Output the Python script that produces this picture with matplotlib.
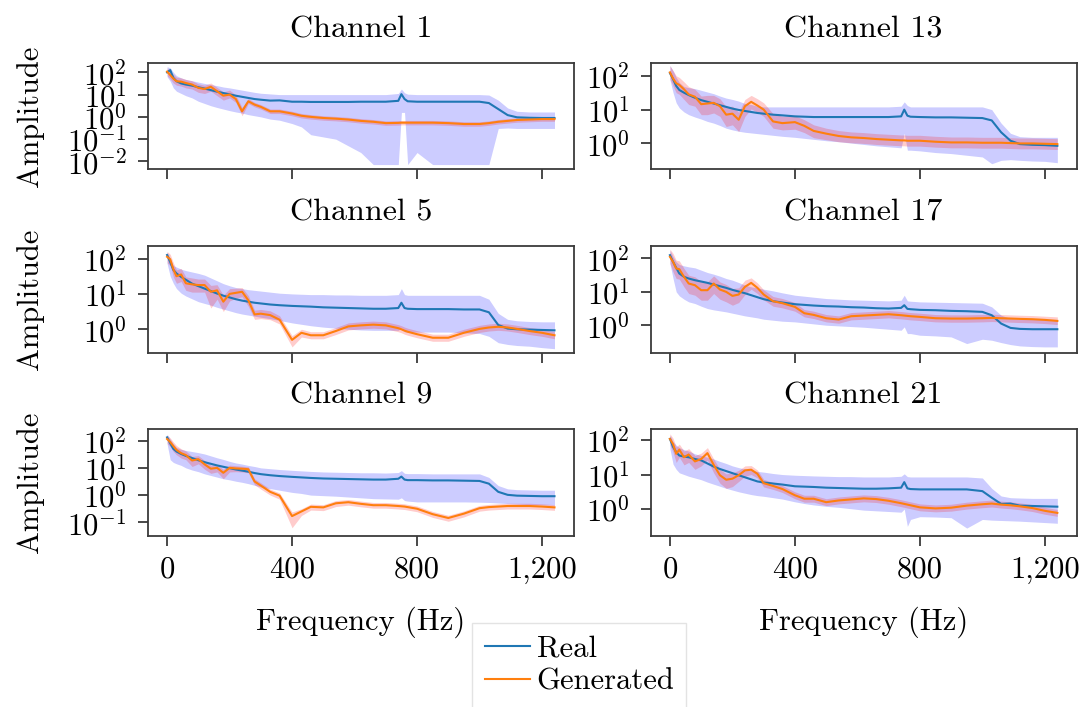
import numpy as np
import matplotlib
matplotlib.use("Agg")
import matplotlib.pyplot as plt
from matplotlib.ticker import FixedLocator, FuncFormatter, NullLocator

plt.rcParams["font.family"] = "cmr10"
plt.rcParams["mathtext.fontset"] = "cm"
plt.rcParams["axes.unicode_minus"] = False
plt.rcParams["font.size"] = 22

# frequency grid (Hz)
freq_hz = [0, 10, 20, 30, 45, 60, 80, 100, 120, 140, 160, 180, 200, 220, 240,
           260, 280, 300, 330, 360, 400, 430, 460, 500, 540, 580, 620, 660, 700, 740,
           750, 760, 770, 800, 850, 900, 950, 1000, 1030, 1060, 1090, 1120, 1160, 1200, 1240]

# all amplitudes below are log10(amplitude)
# ---- Channel 1
ch1_real_mean = [2.0, 2.1, 1.75, 1.6, 1.5, 1.45, 1.4, 1.33, 1.27, 1.2, 1.13, 1.07, 1.01, 0.95, 0.9,
                 0.85, 0.8, 0.77, 0.73, 0.74, 0.68, 0.68, 0.67, 0.67, 0.67, 0.67, 0.68, 0.68, 0.68, 0.72,
                 1.02, 0.8, 0.7, 0.68, 0.68, 0.68, 0.68, 0.68, 0.62, 0.35, 0.08, -0.02, -0.04, -0.05, -0.05]
ch1_real_hi = [2.25, 2.2, 2.0, 1.85, 1.75, 1.68, 1.62, 1.56, 1.5, 1.45, 1.4, 1.34, 1.3, 1.25, 1.2,
               1.15, 1.1, 1.06, 1.03, 1.0, 1.0, 1.0, 1.0, 1.0, 1.0, 1.0, 1.0, 1.0, 1.0, 1.05,
               1.25, 1.08, 1.02, 1.0, 1.0, 1.0, 1.0, 1.0, 0.98, 0.75, 0.4, 0.25, 0.22, 0.22, 0.22]
ch1_real_lo = [1.8, 1.6, 1.3, 1.15, 1.05, 0.95, 0.85, 0.7, 0.6, 0.5, 0.42, 0.35, 0.28, 0.22, 0.17,
               0.1, 0.05, 0.0, -0.1, -0.15, -0.3, -0.45, -0.8, -0.9, -1.0, -1.3, -1.6, -2.14, -2.14, -2.14,
               0.2, 0.2, -2.14, -1.6, -2.14, -2.14, -2.14, -2.14, -2.14, -0.52, -0.5, -0.52, -0.52, -0.52, -0.52]
ch1_gen_mean = [2.03, 1.88, 1.72, 1.6, 1.58, 1.52, 1.45, 1.3, 1.25, 1.35, 1.15, 0.95, 1.0, 0.8, 0.25,
                0.7, 0.55, 0.45, 0.25, 0.25, 0.15, 0.05, 0.0, -0.05, -0.08, -0.12, -0.18, -0.22, -0.28, -0.27,
                -0.26, -0.26, -0.26, -0.26, -0.26, -0.28, -0.32, -0.32, -0.28, -0.22, -0.18, -0.14, -0.12, -0.1, -0.1]
ch1_gen_hi = [2.2, 2.05, 1.9, 1.78, 1.75, 1.68, 1.62, 1.48, 1.42, 1.52, 1.32, 1.12, 1.2, 0.98, 0.42,
              0.82, 0.65, 0.55, 0.35, 0.35, 0.25, 0.15, 0.1, 0.05, 0.02, -0.02, -0.08, -0.12, -0.18, -0.17,
              -0.16, -0.16, -0.16, -0.16, -0.16, -0.18, -0.22, -0.22, -0.18, -0.12, -0.08, -0.04, -0.02, 0.0, 0.0]
ch1_gen_lo = [1.85, 1.7, 1.52, 1.42, 1.38, 1.3, 1.25, 1.1, 1.05, 1.15, 0.95, 0.75, 0.85, 0.65, 0.05,
              0.6, 0.45, 0.35, 0.15, 0.15, 0.05, -0.05, -0.1, -0.15, -0.18, -0.22, -0.28, -0.32, -0.38, -0.37,
              -0.36, -0.36, -0.36, -0.36, -0.36, -0.38, -0.42, -0.42, -0.38, -0.32, -0.28, -0.24, -0.22, -0.2, -0.2]

# ---- Channel 13
ch13_real_mean = [2.08, 1.9, 1.7, 1.58, 1.5, 1.43, 1.35, 1.28, 1.23, 1.18, 1.13, 1.08, 1.03, 0.99, 0.96,
                  0.93, 0.9, 0.88, 0.85, 0.83, 0.8, 0.79, 0.78, 0.78, 0.78, 0.78, 0.78, 0.78, 0.78, 0.8,
                  1.0, 0.82, 0.79, 0.78, 0.77, 0.77, 0.76, 0.75, 0.68, 0.33, 0.08, -0.02, -0.04, -0.05, -0.07]
ch13_real_hi = [2.3, 2.15, 1.95, 1.8, 1.68, 1.65, 1.62, 1.57, 1.52, 1.47, 1.4, 1.34, 1.3, 1.25, 1.18,
                1.15, 1.1, 1.08, 1.08, 1.08, 1.08, 1.08, 1.08, 1.08, 1.08, 1.08, 1.08, 1.08, 1.08, 1.1,
                1.23, 1.12, 1.08, 1.08, 1.08, 1.08, 1.08, 1.08, 1.0, 0.6, 0.3, 0.2, 0.18, 0.18, 0.18]
ch13_real_lo = [1.88, 1.5, 1.2, 1.05, 0.93, 0.85, 0.78, 0.72, 0.65, 0.6, 0.53, 0.45, 0.4, 0.36, 0.33,
                0.31, 0.29, 0.27, 0.24, 0.21, 0.18, 0.15, 0.12, 0.08, 0.05, 0.01, -0.03, -0.07, -0.1, -0.13,
                0.3, -0.2, -0.2, -0.22, -0.27, -0.3, -0.35, -0.4, -0.6, -0.5, -0.48, -0.5, -0.52, -0.53, -0.57]
ch13_gen_mean = [2.1, 1.92, 1.78, 1.73, 1.6, 1.45, 1.38, 1.16, 1.18, 1.2, 1.1, 0.85, 0.88, 0.7, 1.1,
                 1.23, 1.12, 1.0, 0.65, 0.6, 0.63, 0.52, 0.37, 0.29, 0.22, 0.18, 0.16, 0.13, 0.11, 0.09,
                 0.09, 0.08, 0.08, 0.08, 0.05, 0.03, 0.03, 0.02, 0.02, 0.02, 0.01, 0.0, 0.0, -0.01, -0.02]
ch13_gen_hi = [2.3, 2.15, 2.0, 1.95, 1.82, 1.68, 1.6, 1.4, 1.42, 1.42, 1.32, 1.08, 1.1, 0.92, 1.3,
               1.42, 1.32, 1.2, 0.88, 0.8, 0.82, 0.7, 0.55, 0.45, 0.38, 0.34, 0.32, 0.29, 0.27, 0.25,
               0.25, 0.24, 0.24, 0.24, 0.21, 0.19, 0.19, 0.18, 0.18, 0.18, 0.17, 0.16, 0.16, 0.15, 0.14]
ch13_gen_lo = [1.9, 1.7, 1.5, 1.45, 1.3, 1.15, 1.1, 0.85, 0.85, 0.9, 0.8, 0.5, 0.55, 0.35, 0.8,
               1.02, 0.92, 0.8, 0.45, 0.4, 0.42, 0.32, 0.17, 0.11, 0.05, 0.02, 0.0, -0.03, -0.05, -0.07,
               -0.07, -0.08, -0.08, -0.08, -0.11, -0.13, -0.13, -0.14, -0.14, -0.14, -0.15, -0.16, -0.16, -0.17, -0.18]

# ---- Channel 5
ch5_real_mean = [2.1, 1.9, 1.68, 1.58, 1.48, 1.4, 1.29, 1.22, 1.15, 1.08, 1.01, 0.95, 0.9, 0.85, 0.81,
                 0.78, 0.75, 0.73, 0.7, 0.68, 0.66, 0.65, 0.64, 0.62, 0.61, 0.6, 0.59, 0.58, 0.58, 0.6,
                 0.75, 0.6, 0.58, 0.57, 0.57, 0.57, 0.56, 0.56, 0.48, 0.12, 0.02, 0.0, -0.01, -0.02, -0.03]
ch5_real_hi = [2.19, 2.0, 1.8, 1.76, 1.7, 1.66, 1.62, 1.58, 1.53, 1.45, 1.37, 1.29, 1.23, 1.18, 1.15,
               1.12, 1.1, 1.08, 1.05, 1.02, 1.0, 0.99, 0.98, 0.98, 0.97, 0.97, 0.96, 0.96, 0.96, 0.98,
               1.15, 0.98, 0.96, 0.96, 0.96, 0.96, 0.96, 0.96, 0.85, 0.45, 0.28, 0.24, 0.22, 0.21, 0.21]
ch5_real_lo = [1.86, 1.5, 1.3, 1.15, 1.02, 0.94, 0.86, 0.78, 0.73, 0.68, 0.62, 0.57, 0.52, 0.47, 0.43,
               0.4, 0.37, 0.34, 0.3, 0.25, 0.18, 0.14, 0.1, 0.06, 0.03, 0.0, -0.02, -0.03, -0.03, -0.03,
               0.05, -0.07, -0.08, -0.08, -0.08, -0.08, -0.1, -0.12, -0.2, -0.38, -0.43, -0.46, -0.48, -0.52, -0.55]
ch5_gen_mean = [2.05, 1.98, 1.7, 1.5, 1.55, 1.3, 1.27, 1.25, 1.25, 1.06, 1.1, 0.78, 1.0, 1.03, 1.06,
                0.82, 0.42, 0.44, 0.4, 0.27, -0.3, -0.1, -0.17, -0.17, -0.05, 0.08, 0.11, 0.13, 0.11, 0.03,
                0.0, -0.04, -0.07, -0.14, -0.24, -0.24, -0.1, 0.01, 0.05, 0.07, 0.05, 0.01, -0.05, -0.1, -0.17]
ch5_gen_hi = [2.2, 2.12, 1.88, 1.68, 1.72, 1.48, 1.45, 1.42, 1.42, 1.24, 1.26, 0.96, 1.15, 1.16, 1.18,
              0.95, 0.54, 0.56, 0.52, 0.38, -0.18, 0.0, -0.07, -0.07, 0.05, 0.18, 0.21, 0.23, 0.21, 0.13,
              0.1, 0.06, 0.03, -0.04, -0.14, -0.14, 0.0, 0.11, 0.15, 0.17, 0.15, 0.11, 0.05, 0.0, -0.07]
ch5_gen_lo = [1.88, 1.8, 1.48, 1.3, 1.35, 1.1, 1.05, 1.05, 1.05, 0.6, 0.85, 0.5, 0.8, 0.88, 0.92,
              0.65, 0.28, 0.3, 0.27, 0.15, -0.5, -0.22, -0.27, -0.27, -0.15, -0.02, 0.01, 0.03, 0.01, -0.07,
              -0.1, -0.14, -0.17, -0.24, -0.34, -0.34, -0.2, -0.09, -0.05, -0.03, -0.05, -0.09, -0.15, -0.2, -0.27]

# ---- Channel 17
ch17_real_mean = [2.1, 1.9, 1.72, 1.55, 1.45, 1.4, 1.35, 1.31, 1.27, 1.22, 1.17, 1.12, 1.06, 1.01, 0.96,
                  0.9, 0.84, 0.78, 0.72, 0.68, 0.63, 0.61, 0.59, 0.57, 0.56, 0.54, 0.53, 0.51, 0.5, 0.52,
                  0.6, 0.49, 0.48, 0.46, 0.45, 0.43, 0.42, 0.4, 0.3, 0.05, -0.08, -0.11, -0.12, -0.12, -0.12]
ch17_real_hi = [2.25, 2.05, 1.9, 1.82, 1.78, 1.75, 1.72, 1.65, 1.58, 1.53, 1.47, 1.4, 1.35, 1.28, 1.2,
                1.15, 1.12, 1.08, 1.03, 0.97, 0.9, 0.87, 0.84, 0.8, 0.78, 0.76, 0.75, 0.74, 0.73, 0.75,
                0.9, 0.73, 0.72, 0.7, 0.69, 0.68, 0.67, 0.66, 0.55, 0.3, 0.2, 0.18, 0.17, 0.17, 0.17]
ch17_real_lo = [1.85, 1.4, 1.0, 0.88, 0.78, 0.7, 0.65, 0.57, 0.5, 0.46, 0.43, 0.4, 0.36, 0.32, 0.28,
                0.25, 0.22, 0.18, 0.15, 0.12, 0.1, 0.07, 0.04, 0.0, -0.02, -0.04, -0.06, -0.09, -0.12, -0.15,
                -0.05, -0.25, -0.25, -0.3, -0.32, -0.35, -0.55, -0.42, -0.45, -0.52, -0.58, -0.62, -0.64, -0.65, -0.65]
ch17_gen_mean = [2.05, 1.9, 1.7, 1.68, 1.45, 1.25, 1.2, 1.05, 1.05, 1.25, 1.07, 1.0, 0.88, 0.92, 1.15,
                 1.27, 1.12, 0.92, 0.72, 0.66, 0.55, 0.36, 0.31, 0.21, 0.17, 0.27, 0.29, 0.31, 0.33, 0.3,
                 0.29, 0.28, 0.27, 0.25, 0.21, 0.2, 0.2, 0.21, 0.22, 0.21, 0.2, 0.19, 0.18, 0.16, 0.13]
ch17_gen_hi = [2.28, 2.15, 1.95, 1.93, 1.7, 1.5, 1.45, 1.3, 1.3, 1.48, 1.3, 1.22, 1.1, 1.12, 1.35,
               1.42, 1.27, 1.06, 0.86, 0.8, 0.68, 0.47, 0.42, 0.32, 0.28, 0.38, 0.4, 0.42, 0.44, 0.41,
               0.4, 0.39, 0.38, 0.36, 0.32, 0.31, 0.31, 0.32, 0.33, 0.32, 0.31, 0.3, 0.29, 0.27, 0.25]
ch17_gen_lo = [1.85, 1.6, 1.4, 1.38, 1.15, 0.95, 0.9, 0.75, 0.75, 0.95, 0.78, 0.7, 0.6, 0.68, 0.92,
               1.08, 0.95, 0.76, 0.57, 0.52, 0.42, 0.25, 0.2, 0.1, 0.06, 0.16, 0.18, 0.2, 0.22, 0.19,
               0.18, 0.17, 0.16, 0.14, 0.1, 0.09, 0.09, 0.1, 0.11, 0.1, 0.09, 0.08, 0.07, 0.05, 0.02]

# ---- Channel 9
ch9_real_mean = [2.12, 1.9, 1.7, 1.6, 1.51, 1.44, 1.36, 1.28, 1.21, 1.15, 1.09, 1.04, 0.99, 0.94, 0.9,
                 0.86, 0.81, 0.77, 0.73, 0.7, 0.67, 0.65, 0.63, 0.61, 0.6, 0.59, 0.58, 0.57, 0.57, 0.6,
                 0.68, 0.57, 0.55, 0.55, 0.54, 0.54, 0.53, 0.52, 0.42, 0.12, 0.01, -0.02, -0.03, -0.04, -0.04]
ch9_real_hi = [2.24, 2.05, 1.88, 1.75, 1.68, 1.64, 1.6, 1.56, 1.51, 1.44, 1.37, 1.31, 1.24, 1.18, 1.14,
               1.09, 1.05, 1.0, 0.97, 0.94, 0.91, 0.89, 0.87, 0.85, 0.84, 0.83, 0.82, 0.82, 0.81, 0.83,
               0.9, 0.8, 0.79, 0.79, 0.78, 0.78, 0.78, 0.78, 0.65, 0.35, 0.23, 0.2, 0.19, 0.18, 0.18]
ch9_real_lo = [1.88, 1.3, 1.2, 1.15, 1.09, 1.0, 0.92, 0.86, 0.78, 0.72, 0.66, 0.6, 0.56, 0.51, 0.47,
               0.42, 0.36, 0.3, 0.24, 0.18, 0.1, 0.06, 0.0, -0.02, -0.04, -0.07, -0.1, -0.13, -0.14, -0.15,
               -0.1, -0.2, -0.22, -0.25, -0.25, -0.25, -0.25, -0.26, -0.27, -0.29, -0.31, -0.33, -0.35, -0.36, -0.37]
ch9_gen_mean = [2.06, 1.95, 1.8, 1.66, 1.54, 1.47, 1.27, 1.32, 1.13, 0.97, 1.0, 0.82, 1.0, 0.98, 0.97,
                0.95, 0.5, 0.35, 0.12, -0.02, -0.77, -0.6, -0.43, -0.45, -0.3, -0.26, -0.32, -0.37, -0.37, -0.4,
                -0.41, -0.42, -0.44, -0.5, -0.7, -0.84, -0.68, -0.48, -0.44, -0.42, -0.4, -0.4, -0.4, -0.42, -0.45]
ch9_gen_hi = [2.2, 2.1, 1.95, 1.82, 1.7, 1.62, 1.42, 1.45, 1.27, 1.1, 1.12, 0.95, 1.1, 1.08, 1.06,
              1.04, 0.6, 0.45, 0.22, 0.08, -0.62, -0.5, -0.33, -0.35, -0.2, -0.16, -0.22, -0.27, -0.27, -0.3,
              -0.31, -0.32, -0.34, -0.4, -0.6, -0.74, -0.58, -0.38, -0.34, -0.32, -0.3, -0.3, -0.3, -0.32, -0.35]
ch9_gen_lo = [1.9, 1.78, 1.6, 1.48, 1.36, 1.3, 1.05, 1.15, 0.95, 0.8, 0.85, 0.6, 0.85, 0.86, 0.85,
              0.82, 0.38, 0.22, 0.0, -0.15, -1.2, -0.75, -0.55, -0.57, -0.42, -0.37, -0.43, -0.48, -0.48, -0.51,
              -0.52, -0.53, -0.55, -0.61, -0.82, -0.96, -0.8, -0.59, -0.55, -0.53, -0.51, -0.51, -0.51, -0.53, -0.56]

# ---- Channel 21
ch21_real_mean = [2.03, 1.8, 1.65, 1.55, 1.52, 1.5, 1.45, 1.41, 1.32, 1.23, 1.16, 1.1, 1.04, 0.98, 0.92,
                  0.86, 0.8, 0.77, 0.74, 0.71, 0.66, 0.65, 0.64, 0.62, 0.61, 0.6, 0.59, 0.59, 0.6, 0.62,
                  0.78, 0.6, 0.58, 0.57, 0.57, 0.57, 0.57, 0.52, 0.33, 0.15, 0.16, 0.1, 0.09, 0.08, 0.07]
ch21_real_hi = [2.15, 1.95, 1.85, 1.78, 1.72, 1.68, 1.6, 1.55, 1.5, 1.45, 1.38, 1.32, 1.25, 1.2, 1.16,
                1.12, 1.09, 1.07, 1.03, 1.0, 0.98, 0.97, 0.96, 0.95, 0.94, 0.94, 0.93, 0.93, 0.93, 0.95,
                1.02, 0.94, 0.93, 0.93, 0.93, 0.93, 0.93, 0.9, 0.6, 0.38, 0.33, 0.32, 0.31, 0.31, 0.31]
ch21_real_lo = [1.74, 1.3, 1.15, 1.05, 1.0, 0.95, 0.9, 0.85, 0.78, 0.72, 0.66, 0.6, 0.55, 0.5, 0.46,
                0.42, 0.39, 0.37, 0.33, 0.29, 0.21, 0.16, 0.12, 0.08, 0.05, 0.01, -0.03, -0.05, -0.07, -0.09,
                0.0, -0.5, -0.3, -0.22, -0.23, -0.25, -0.55, -0.3, -0.32, -0.33, -0.34, -0.35, -0.37, -0.39, -0.41]
ch21_gen_mean = [2.03, 1.88, 1.6, 1.72, 1.5, 1.58, 1.38, 1.45, 1.62, 1.28, 0.98, 0.85, 0.88, 0.98, 1.12,
                 1.14, 1.02, 0.75, 0.67, 0.58, 0.4, 0.3, 0.3, 0.2, 0.25, 0.28, 0.31, 0.29, 0.24, 0.17,
                 0.15, 0.13, 0.11, 0.05, 0.02, 0.04, 0.1, 0.14, 0.16, 0.13, 0.11, 0.08, 0.03, -0.05, -0.11]
ch21_gen_hi = [2.18, 2.05, 1.8, 1.88, 1.68, 1.75, 1.55, 1.62, 1.78, 1.45, 1.15, 1.02, 1.05, 1.12, 1.25,
               1.26, 1.13, 0.86, 0.77, 0.68, 0.5, 0.4, 0.4, 0.3, 0.35, 0.38, 0.41, 0.39, 0.34, 0.27,
               0.25, 0.23, 0.21, 0.15, 0.12, 0.14, 0.2, 0.24, 0.26, 0.23, 0.21, 0.18, 0.13, 0.05, -0.01]
ch21_gen_lo = [1.85, 1.65, 1.35, 1.5, 1.28, 1.35, 1.15, 1.25, 1.42, 1.05, 0.75, 0.6, 0.65, 0.8, 0.95,
               1.0, 0.9, 0.64, 0.57, 0.48, 0.3, 0.2, 0.2, 0.1, 0.15, 0.18, 0.21, 0.19, 0.14, 0.07,
               0.05, 0.03, 0.01, -0.05, -0.08, -0.06, 0.0, 0.04, 0.06, 0.03, 0.01, -0.02, -0.07, -0.15, -0.21]

channel_titles = ["Channel 1", "Channel 13", "Channel 5", "Channel 17", "Channel 9", "Channel 21"]
ylims_log10 = [(-2.36, 2.43), (-0.77, 2.386), (-0.66, 2.36), (-0.82, 2.38), (-1.49, 2.43), (-0.77, 2.32)]

panels = [
    (ch1_real_mean, ch1_real_lo, ch1_real_hi, ch1_gen_mean, ch1_gen_lo, ch1_gen_hi),
    (ch13_real_mean, ch13_real_lo, ch13_real_hi, ch13_gen_mean, ch13_gen_lo, ch13_gen_hi),
    (ch5_real_mean, ch5_real_lo, ch5_real_hi, ch5_gen_mean, ch5_gen_lo, ch5_gen_hi),
    (ch17_real_mean, ch17_real_lo, ch17_real_hi, ch17_gen_mean, ch17_gen_lo, ch17_gen_hi),
    (ch9_real_mean, ch9_real_lo, ch9_real_hi, ch9_gen_mean, ch9_gen_lo, ch9_gen_hi),
    (ch21_real_mean, ch21_real_lo, ch21_real_hi, ch21_gen_mean, ch21_gen_lo, ch21_gen_hi),
]

fig, axes = plt.subplots(3, 2, figsize=(10.83, 7.07), dpi=100, sharex=True)
fig.subplots_adjust(left=0.1364, right=0.9942, top=0.9113, bottom=0.2423, wspace=0.18, hspace=0.715)

f = np.array(freq_hz)
edge = "#3a3a3a"
for i, ax in enumerate(axes.flat):
    rm, rlo, rhi, gm, glo, ghi = [10 ** np.array(a) for a in panels[i]]
    ax.fill_between(f, rlo, rhi, color="blue", alpha=0.2, linewidth=0)
    ax.plot(f, rm, color="#1f77b4", linewidth=1.5, label="Real")
    ax.fill_between(f, glo, ghi, color="red", alpha=0.2, linewidth=0)
    ax.plot(f, gm, color="#ff7f0e", linewidth=1.5, label="Generated")
    ax.set_yscale("log")
    lo, hi = ylims_log10[i]
    ax.set_ylim(10 ** lo, 10 ** hi)
    ax.yaxis.set_major_locator(FixedLocator([10.0 ** k for k in range(-3, 4)]))
    ax.yaxis.set_minor_locator(NullLocator())
    ax.yaxis.set_major_formatter(FuncFormatter(lambda v, p: r"$10^{%d}$" % round(np.log10(v))))
    ax.set_title(channel_titles[i], fontsize=23, pad=18)
    for s in ax.spines.values():
        s.set_color(edge)
        s.set_linewidth(1.3)
    ax.tick_params(length=7, width=1.3, color=edge)
    ax.tick_params(axis="y", pad=8)
    ax.tick_params(axis="x", pad=8)
    if i % 2 == 0:
        ax.set_ylabel("Amplitude")
        ax.yaxis.set_label_coords(-0.243, 0.5)
    if i >= 4:
        ax.set_xlabel("Frequency (Hz)", labelpad=16)

axes[0, 0].set_xticks([0, 400, 800, 1200])
axes[0, 0].xaxis.set_major_formatter(FuncFormatter(lambda v, p: f"{v:,.0f}"))

handles, labels = axes[0, 0].get_legend_handles_labels()
fig.legend(handles, labels, loc="upper center", bbox_to_anchor=(0.535, 0.1193),
           handlelength=1.5, handletextpad=0.2, labelspacing=0.2, borderaxespad=0.0,
           fancybox=False, edgecolor="#dddddd")

fig.savefig("out.png", dpi=100)
